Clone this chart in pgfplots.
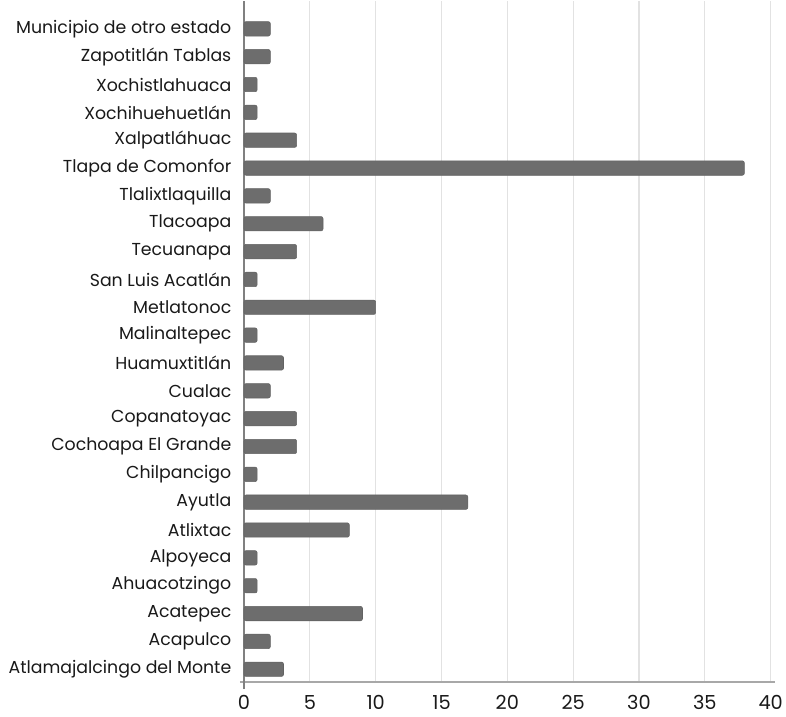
\documentclass[border=0pt]{standalone}
\usepackage{fontspec}
\setmainfont{Poppins}
\usepackage{pgfplots}
\pgfplotsset{compat=1.18}
\definecolor{barfill}{HTML}{6D6D6D}
\definecolor{gridgray}{HTML}{E2E2E2}
\definecolor{axisgray}{HTML}{A8A8A8}

\begin{document}
\begin{tikzpicture}
\begin{axis}[
  scale only axis,
  width=395pt, height=511pt,
  xbar, bar width=10.8pt,
  xmin=0, xmax=40, ymin=-0.47, ymax=24.0,
  xtick={0,5,...,40},
  ytick={0,...,23},
  yticklabels={Atlamajalcingo del Monte,Acapulco,Acatepec,Ahuacotzingo,Alpoyeca,Atlixtac,Ayutla,Chilpancigo,Cochoapa El Grande,Copanatoyac,Cualac,Huamuxtitlán,Malinaltepec,Metlatonoc,San Luis Acatlán,Tecuanapa,Tlacoapa,Tlalixtlaquilla,Tlapa de Comonfor,Xalpatláhuac,Xochihuehuetlán,Xochistlahuaca,Zapotitlán Tablas,Municipio de otro estado},
  /pgf/number format/assume math mode=true,
  yticklabel style={font=\fontsize{13}{15}\selectfont, text=black!90, xshift=-6pt},
  xticklabel style={font=\fontsize{14.5}{16}\selectfont, text=black!90,
    text height=10.5pt, text depth=0pt, inner ysep=1pt, yshift=-9pt},
  major tick length=0pt,
  xmajorgrids, grid style={gridgray, line width=0.9pt},
  axis x line*=bottom, axis y line*=left,
  x axis line style={axisgray, line width=1.3pt, -, shorten <=-3pt, shorten >=-3pt},
  y axis line style={black!50, line width=1.3pt, -, shorten <=-5pt},
  clip=false,
]
\addplot[fill=barfill, draw=barfill!90!black, line width=0.4pt, rounded corners=1.5pt]
coordinates {
(3,0) (2,1) (9,2) (1,3) (1,4) (8,5) (17,6) (1,7) (4,8) (4,9) (2,10) (3,11)
(1,12) (10,13) (1,14) (4,15) (6,16) (2,17) (38,18) (4,19) (1,20) (1,21) (2,22) (2,23)
};
\coordinate (ll) at (rel axis cs:0,0);
\coordinate (ur) at (rel axis cs:1,1);
\end{axis}
\pgfresetboundingbox
\useasboundingbox ([shift={(-183pt,-25.5pt)}]ll) rectangle ([shift={(11.5pt,0.75pt)}]ur);
\end{tikzpicture}
\end{document}
